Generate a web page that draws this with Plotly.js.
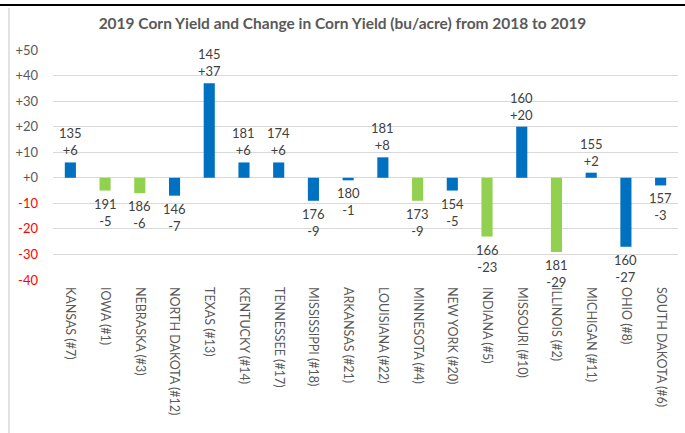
<!DOCTYPE html>
<html>
<head>
<meta charset="utf-8">
<script src="https://cdn.plot.ly/plotly-3.0.1.min.js"></script>
<style>html,body{margin:0;padding:0;background:#fff;}#chart{width:685px;height:433px;}</style>
</head>
<body>
<div id="chart"></div>
<script>
const states = ["KANSAS (#7)","IOWA (#1)","NEBRASKA (#3)","NORTH DAKOTA (#12)","TEXAS (#13)","KENTUCKY (#14)","TENNESSEE (#17)","MISSISSIPPI (#18)","ARKANSAS (#21)","LOUISIANA (#22)","MINNESOTA (#4)","NEW YORK (#20)","INDIANA (#5)","MISSOURI (#10)","ILLINOIS (#2)","MICHIGAN (#11)","OHIO (#8)","SOUTH DAKOTA (#6)"];
const yield2019 = [135,191,186,146,145,181,174,176,180,181,173,154,166,160,181,155,160,157];
const change = [6,-5,-6,-7,37,6,6,-9,-1,8,-9,-5,-23,20,-29,2,-27,-3];
const group = ["b","g","g","b","b","b","b","b","b","b","g","b","g","b","g","b","b","b"];
const tickVals = [50,40,30,20,10,0,-10,-20,-30,-40];
const tickText = ["+50","+40","+30","+20","+10","+0","-10","-20","-30","-40"];

const colorMap = {b:"#0070C0", g:"#92D050"};
const fmt = v => (v >= 0 ? "+" : "") + v;

const trace = {
  type: "bar",
  x: states,
  y: change,
  width: 0.32,
  marker: {color: group.map(g => colorMap[g])},
  hoverinfo: "none"
};

const annotations = states.map((s, i) => ({
  x: s, y: change[i], xref: "x", yref: "y",
  text: yield2019[i] + "<br>" + fmt(change[i]),
  showarrow: false,
  yanchor: change[i] >= 0 ? "bottom" : "top",
  yshift: change[i] >= 0 ? 2 : -3,
  font: {family: "Lato, 'Open Sans', sans-serif", size: 13, color: "#404040"}
}));

const layout = {
  width: 685, height: 433,
  margin: {l: 53, r: 7, t: 50, b: 153},
  paper_bgcolor: "#fff", plot_bgcolor: "#fff",
  showlegend: false,
  title: {
    text: "<b>2019 Corn Yield and Change in Corn Yield (bu/acre) from 2018 to 2019</b>",
    xref: "container", yref: "container", x: 0.5, y: 0.945, xanchor: "center", yanchor: "middle",
    font: {family: "Lato, 'Open Sans', sans-serif", size: 15.5, color: "#595959"}
  },
  xaxis: {
    tickangle: 90,
    tickfont: {family: "Lato, 'Open Sans', sans-serif", size: 12.5, color: "#595959"},
    showgrid: false, showline: false, ticks: "", fixedrange: true,
    ticklabelstandoff: 6
  },
  yaxis: {
    range: [-40, 50],
    tickvals: tickVals,
    ticktext: tickText.map((t, i) => tickVals[i] < 0 ? '<span style="color:#FF0000">' + t + '</span>' : t),
    tickfont: {family: "Lato, 'Open Sans', sans-serif", size: 13, color: "#595959"},
    gridcolor: "#D9D9D9", gridwidth: 1,
    zeroline: true, zerolinecolor: "#D9D9D9", zerolinewidth: 1,
    showline: false, ticks: "", fixedrange: true,
    ticklabelstandoff: 14
  },
  annotations: annotations,
  shapes: [
    {type: "line", xref: "paper", yref: "paper", x0: -0.1, x1: 1.02, y0: (280-5)/230, y1: (280-5)/230, line: {color: "#000", width: 2}},
    {type: "line", xref: "paper", yref: "paper", x0: (9-53)/625, x1: (9-53)/625, y0: (280-8)/230, y1: (280-440)/230, line: {color: "#D9D9D9", width: 1.5}}
  ]
};

Plotly.newPlot("chart", [trace], layout, {displayModeBar: false, staticPlot: true});
</script>
</body>
</html>
